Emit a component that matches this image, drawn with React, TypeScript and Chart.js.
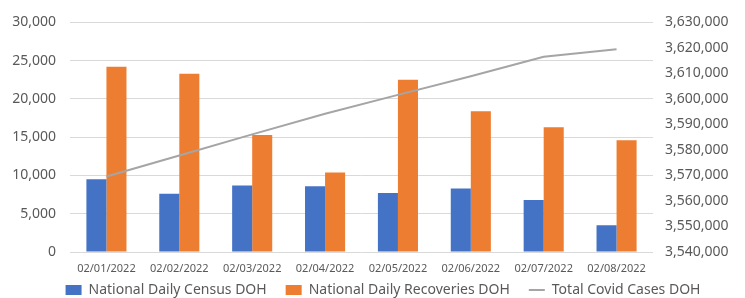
import React, { useEffect, useRef } from "react";
import { Chart, registerables } from "chart.js";

Chart.register(...registerables);

const categories = [
  "02/01/2022",
  "02/02/2022",
  "02/03/2022",
  "02/04/2022",
  "02/05/2022",
  "02/06/2022",
  "02/07/2022",
  "02/08/2022",
];
const dailyCensus = [9500, 7600, 8700, 8600, 7700, 8300, 6800, 3500];
const dailyRecoveries = [24200, 23300, 15300, 10400, 22500, 18400, 16300, 14600];
const totalCases = [3569600, 3577800, 3586100, 3594200, 3601600, 3608900, 3616500, 3619500];

const leftTicks = { min: 0, max: 30000, step: 5000 };
const rightTicks = { min: 3540000, max: 3630000, step: 10000 };

const TEXT = "#595959";
const FONT = "'Noto Sans', sans-serif";

const LEGEND_PAD = 19;
const LEGEND_HEIGHT = 23;
const LEGEND_SHIFT_Y = -11;
const LEGEND_SHIFT_X = 21;

const legendTweak = {
  id: "legendTweak",
  beforeLayout(chart: any) {
    const lg = chart.legend;
    if (!lg || lg.__tweaked) return;
    lg.__tweaked = true;
    const origFit = lg.fit.bind(lg);
    lg.fit = function () {
      origFit();
      this.height = LEGEND_HEIGHT;
    };
    const origDraw = lg.draw.bind(lg);
    lg.draw = function () {
      const t = this.top;
      const l = this.left;
      this.top = t + LEGEND_SHIFT_Y;
      this.left = l + LEGEND_SHIFT_X;
      origDraw();
      this.top = t;
      this.left = l;
    };
  },
};

export default function App() {
  const ref = useRef<HTMLCanvasElement | null>(null);

  useEffect(() => {
    document.body.style.margin = "0";
    const canvas = ref.current;
    if (!canvas) return;
    const chart = new Chart(canvas, {
      type: "bar",
      data: {
        labels: categories,
        datasets: [
          {
            type: "bar",
            label: "National Daily Census DOH",
            data: dailyCensus,
            backgroundColor: "#4472C4",
            borderWidth: 0,
            yAxisID: "y",
            order: 1,
            pointStyle: "rect",
          } as any,
          {
            type: "bar",
            label: "National Daily Recoveries DOH",
            data: dailyRecoveries,
            backgroundColor: "#ED7D31",
            borderWidth: 0,
            yAxisID: "y",
            order: 1,
            pointStyle: "rect",
          } as any,
          {
            type: "line",
            label: "Total Covid Cases DOH",
            data: totalCases,
            borderColor: "#A5A5A5",
            backgroundColor: "#A5A5A5",
            borderWidth: 2,
            pointRadius: 0,
            tension: 0,
            yAxisID: "y1",
            order: 0,
            pointStyle: "line",
          } as any,
        ],
      },
      plugins: [legendTweak],
      options: {
        animation: false,
        responsive: false,
        maintainAspectRatio: false,
        layout: { padding: { top: 20, left: 0, right: 0, bottom: 0 } },
        datasets: {
          bar: { categoryPercentage: 0.55, barPercentage: 1.0 },
        } as any,
        plugins: {
          title: { display: false },
          tooltip: { enabled: false },
          legend: {
            position: "bottom",
            labels: {
              usePointStyle: true,
              pointStyleWidth: 16,
              boxHeight: 10,
              padding: LEGEND_PAD,
              color: TEXT,
              font: { family: FONT, size: 14 },
              sort: (a: any, b: any) => a.datasetIndex - b.datasetIndex,
            },
          },
        },
        scales: {
          x: {
            grid: { display: false, drawTicks: false },
            border: { display: false },
            ticks: {
              color: TEXT,
              font: { family: FONT, size: 11 },
              maxRotation: 0,
              padding: 10,
            },
            afterFit: (s: any) => {
              s.height = 23;
            },
          },
          y: {
            position: "left",
            min: leftTicks.min,
            max: leftTicks.max,
            ticks: {
              stepSize: leftTicks.step,
              color: TEXT,
              font: { family: FONT, size: 14 },
              padding: 14,
              callback: (v: any) => Number(v).toLocaleString("en-US"),
            },
            grid: { color: "#D9D9D9", drawTicks: false, lineWidth: 1 },
            border: { display: false },
            afterFit: (s: any) => {
              s.width = 70;
            },
          },
          y1: {
            position: "right",
            min: rightTicks.min,
            max: rightTicks.max,
            ticks: {
              stepSize: rightTicks.step,
              color: TEXT,
              font: { family: FONT, size: 14 },
              padding: 12,
              callback: (v: any) => Number(v).toLocaleString("en-US"),
            },
            grid: { drawOnChartArea: false, drawTicks: false },
            border: { display: false },
            afterFit: (s: any) => {
              s.width = 92;
            },
          },
        },
      },
    });
    return () => chart.destroy();
  }, []);

  return (
    <div style={{ width: 745, height: 298, background: "#fff" }}>
      <canvas ref={ref} width={745} height={298} style={{ display: "block" }} />
    </div>
  );
}
